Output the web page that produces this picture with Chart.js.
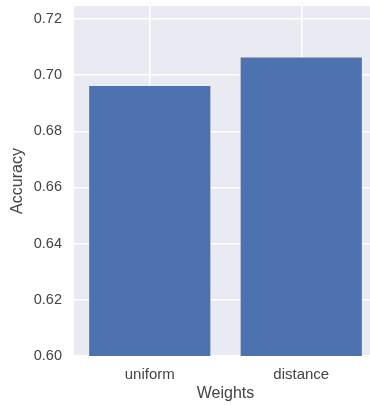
<!DOCTYPE html>
<html>
<head>
<meta charset="utf-8">
<script src="https://cdn.jsdelivr.net/npm/chart.js@4"></script>
<style>
  html, body { margin: 0; padding: 0; background: #fff; overflow: hidden; }
  #wrap { width: 380px; height: 405px; }
</style>
</head>
<body>
<div id="wrap"><canvas id="grafico" width="380" height="405"></canvas></div>
<script>
const weights = ['uniform', 'distance'];
const accuracy = [0.6961, 0.7063];
const yTicks = [0.60, 0.62, 0.64, 0.66, 0.68, 0.70, 0.72];
const yMin = 0.60;
const yMax = 0.7246;

// seaborn style background behind the plot area
const plotBg = {
  id: 'plotBg',
  beforeDraw(chart) {
    const { ctx, chartArea } = chart;
    ctx.save();
    ctx.fillStyle = '#EAEAF2';
    ctx.fillRect(chartArea.left, chartArea.top, chartArea.right - chartArea.left, chartArea.bottom - chartArea.top);
    ctx.restore();
  }
};

const ctx = document.getElementById('grafico').getContext('2d');
new Chart(ctx, {
  type: 'bar',
  data: {
    labels: weights,
    datasets: [{
      data: accuracy,
      backgroundColor: '#4C72B0',
      borderWidth: 0,
      barPercentage: 0.8,
      categoryPercentage: 1.0
    }]
  },
  options: {
    responsive: false,
    animation: false,
    layout: { padding: { top: 6, left: 0, right: 3, bottom: 0 } },
    plugins: { legend: { display: false }, tooltip: { enabled: false } },
    scales: {
      x: {
        grid: { color: '#fff', lineWidth: 1.5, offset: false, drawTicks: false },
        border: { display: false },
        ticks: { color: '#444', padding: 10, font: { family: 'Liberation Sans, Arial', size: 15 } },
        title: { display: true, text: 'Weights', color: '#444', padding: { top: 0, bottom: 2 }, font: { family: 'Liberation Sans, Arial', size: 16 } },
        afterFit(scale) { scale.height = 49; }
      },
      y: {
        min: yMin,
        max: yMax,
        grid: { color: '#fff', lineWidth: 1.5, drawTicks: false },
        border: { display: false },
        afterBuildTicks(scale) { scale.ticks = yTicks.map(v => ({ value: v })); },
        ticks: {
          color: '#444',
          padding: 12,
          font: { family: 'Liberation Sans, Arial', size: 14.5 },
          callback: (v) => v.toFixed(2)
        },
        title: { display: true, text: 'Accuracy', color: '#444', padding: { top: 8, bottom: 0 }, font: { family: 'Liberation Sans, Arial', size: 16 } },
        afterFit(scale) {
          scale.width = 74;
          scale.paddingTop = 0;
          scale.paddingBottom = 0;
        }
      }
    }
  },
  plugins: [plotBg]
});
</script>
</body>
</html>
